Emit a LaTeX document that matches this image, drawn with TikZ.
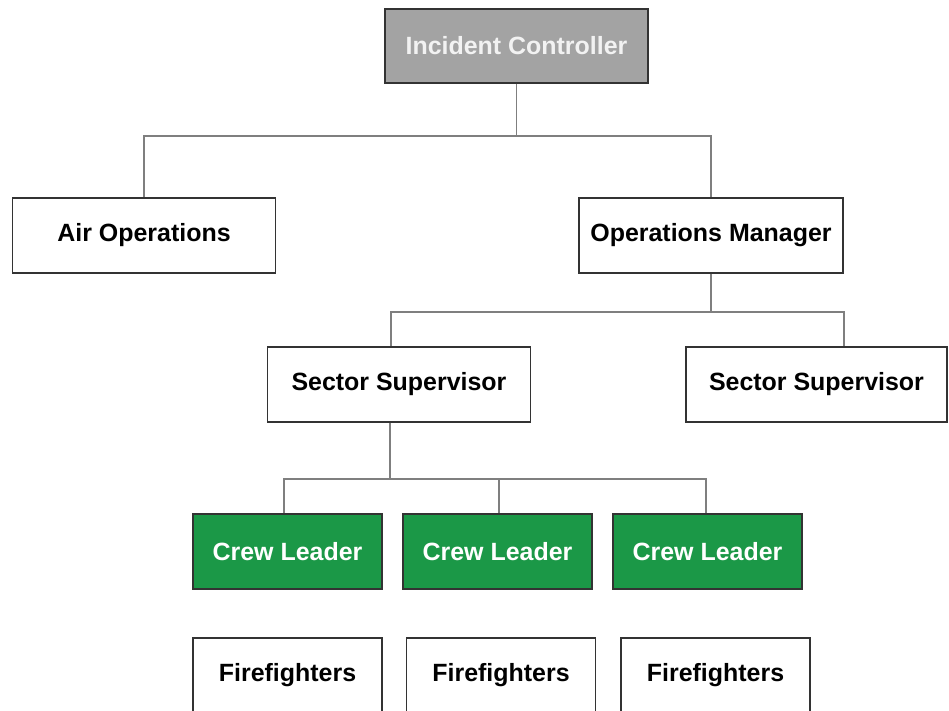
\documentclass[tikz,border=0pt]{standalone}
\usepackage{fontspec}
\setmainfont{Liberation Sans}
\usetikzlibrary{calc}

\definecolor{boxline}{HTML}{333333}
\definecolor{wireline}{HTML}{7F7F7F}
\definecolor{chieffill}{HTML}{A3A3A3}
\definecolor{chieftext}{HTML}{F2F2F2}
\definecolor{crewfill}{HTML}{1B9847}

\begin{document}
\begin{tikzpicture}[scale=0.2,
  box/.style={draw=boxline, line width=1pt, fill=white, minimum width=5.26cm,
    minimum height=1.5cm, inner sep=0pt, font=\fontsize{14.2}{16}\selectfont\bfseries},
  chief/.style={box, fill=chieffill, text=chieftext, minimum height=1.48cm},
  crew/.style={box, fill=crewfill, text=white, minimum width=3.78cm},
  team/.style={box, minimum width=3.78cm},
  wire/.style={draw=wireline, line width=1.1pt}]
\useasboundingbox (0,0) rectangle (94.9,-71.1);
\fill [white] (0,0) rectangle (94.9,-71.1);
% boxes
\node [chief] (ic) at (51.65,-4.6) {Incident Controller};
\node [box] (ao) at (14.4,-23.55) {Air Operations};
\node [box, minimum width=5.28cm] (om) at (71.1,-23.55) {Operations Manager};
\node [box] (ss1) at (39.9,-38.45) {Sector Supervisor};
\node [box, minimum width=5.22cm] (ss2) at (81.65,-38.45) {Sector Supervisor};
\node [crew] (cl1) at (28.75,-55.15) {Crew Leader};
\node [crew] (cl2) at (49.75,-55.15) {Crew Leader};
\node [crew] (cl3) at (70.75,-55.15) {Crew Leader};
\node [team] (ff1) at (28.75,-67.55) {Firefighters};
\node [team] (ff2) at (50.1,-67.55) {Firefighters};
\node [team] (ff3) at (71.55,-67.55) {Firefighters};
% wires
\draw [wire] (ic.south) -- ++(0,-5.2) -| (ao.north);
\draw [wire] (ic.south) -- ++(0,-5.2) -| (om.north);
\draw [wire] (om.south) -- ++(0,-3.8) -| ($(ss1.north)+(-0.8,0)$);
\draw [wire] (om.south) -- ++(0,-3.8) -| ($(ss2.north)+(2.75,0)$);
\draw [wire] ($(ss1.south)+(-0.9,0)$) -- ++(0,-5.6) -| ($(cl1.north)+(-0.35,0)$);
\draw [wire] ($(ss1.south)+(-0.9,0)$) -- ++(0,-5.6) -| ($(cl2.north)+(0.15,0)$);
\draw [wire] ($(ss1.south)+(-0.9,0)$) -- ++(0,-5.6) -| ($(cl3.north)+(-0.15,0)$);
\end{tikzpicture}
\end{document}
